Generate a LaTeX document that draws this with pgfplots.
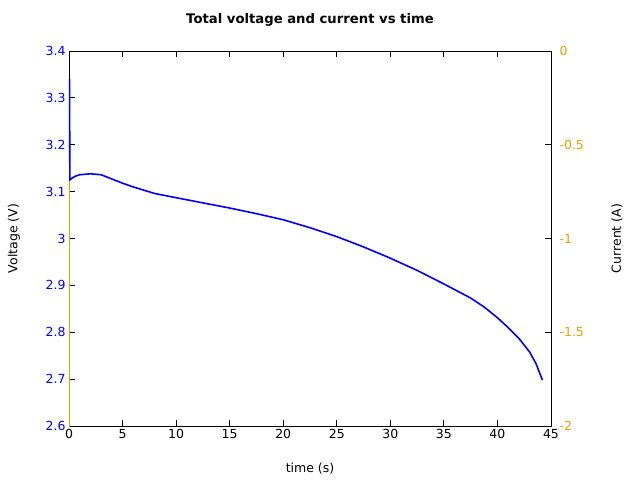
\documentclass[border=0pt]{standalone}
\usepackage{pgfplots}
\pgfplotsset{compat=1.18}
\usepackage{fontspec}
\setmainfont{DejaVu Sans}
\definecolor{gpblue}{RGB}{0,0,255}
\definecolor{gporange}{RGB}{230,159,0}
\begin{document}
\begin{tikzpicture}
\path (0pt,0pt) rectangle (640pt,480pt);
\begin{axis}[at={(69pt,54pt)}, anchor=south west, scale only axis, width=482pt, height=375pt,
  xmin=0, xmax=45, ymin=2.6, ymax=3.4,
  xtick={0,5,...,45}, ytick={2.6,2.7,2.8,2.9,3.0,3.1,3.2,3.3,3.4},
  yticklabels={2.6,2.7,2.8,2.9,3,3.1,3.2,3.3,3.4},
  xticklabels={0,5,10,15,20,25,30,35,40,45},
  tick align=inside, major tick length=6pt, ytick pos=left, xtick pos=both,
  axis line style={line width=0.9pt}, tick style={line width=0.9pt, black},
  yticklabel style={text=gpblue}, ticklabel style={font=\fontsize{12.5}{14}\selectfont},
  title={\textbf{Total voltage and current vs time}},
  title style={at={(axis description cs:0.5,1.0667)}, anchor=center, font=\fontsize{13.2}{15}\selectfont},
  xlabel={time (s)}, ylabel={Voltage (V)},
  xlabel style={at={(axis description cs:0.5,-0.1147)}, anchor=center, font=\fontsize{12.5}{14}\selectfont},
  ylabel style={at={(axis description cs:-0.1141,0.5)}, anchor=center, rotate=0, font=\fontsize{12.5}{14}\selectfont},
  clip=true]
\addplot[gporange, line width=1.4pt] coordinates {(0.03,3.125) (0.03,2.5)};
\addplot[gpblue, line width=1.6pt] coordinates {
(0.05,3.34) (0.08,3.125) (0.3,3.129) (0.6,3.133) (1,3.136) (2,3.138) (3,3.136) (4,3.127)
(5,3.118) (6,3.110) (7,3.103) (8,3.096) (10,3.087) (12.5,3.076) (15,3.065) (17.5,3.053)
(20,3.040) (22.5,3.023) (25,3.004) (27.5,2.982) (30,2.958) (32.5,2.932) (35,2.903)
(37.5,2.873) (38.75,2.854) (40,2.831) (41,2.810) (42,2.787) (43,2.758) (43.6,2.733) (44.2,2.698)};
\end{axis}
\begin{axis}[at={(69pt,54pt)}, anchor=south west, scale only axis, width=482pt, height=375pt,
  xmin=0, xmax=45, ymin=-2, ymax=0,
  axis x line=none, axis y line*=right,
  ytick={-2,-1.5,-1,-0.5,0}, yticklabels={-2,-1.5,-1,-0.5,0},
  tick align=inside, major tick length=6pt,
  axis line style={line width=0.9pt}, tick style={line width=0.9pt, black},
  yticklabel style={text=gporange, font=\fontsize{12.5}{14}\selectfont, xshift=5pt},
  ylabel={Current (A)},
  ylabel style={at={(axis description cs:1.1369,0.5)}, anchor=center, rotate=0, font=\fontsize{12.5}{14}\selectfont}]
\end{axis}
\end{tikzpicture}
\end{document}
